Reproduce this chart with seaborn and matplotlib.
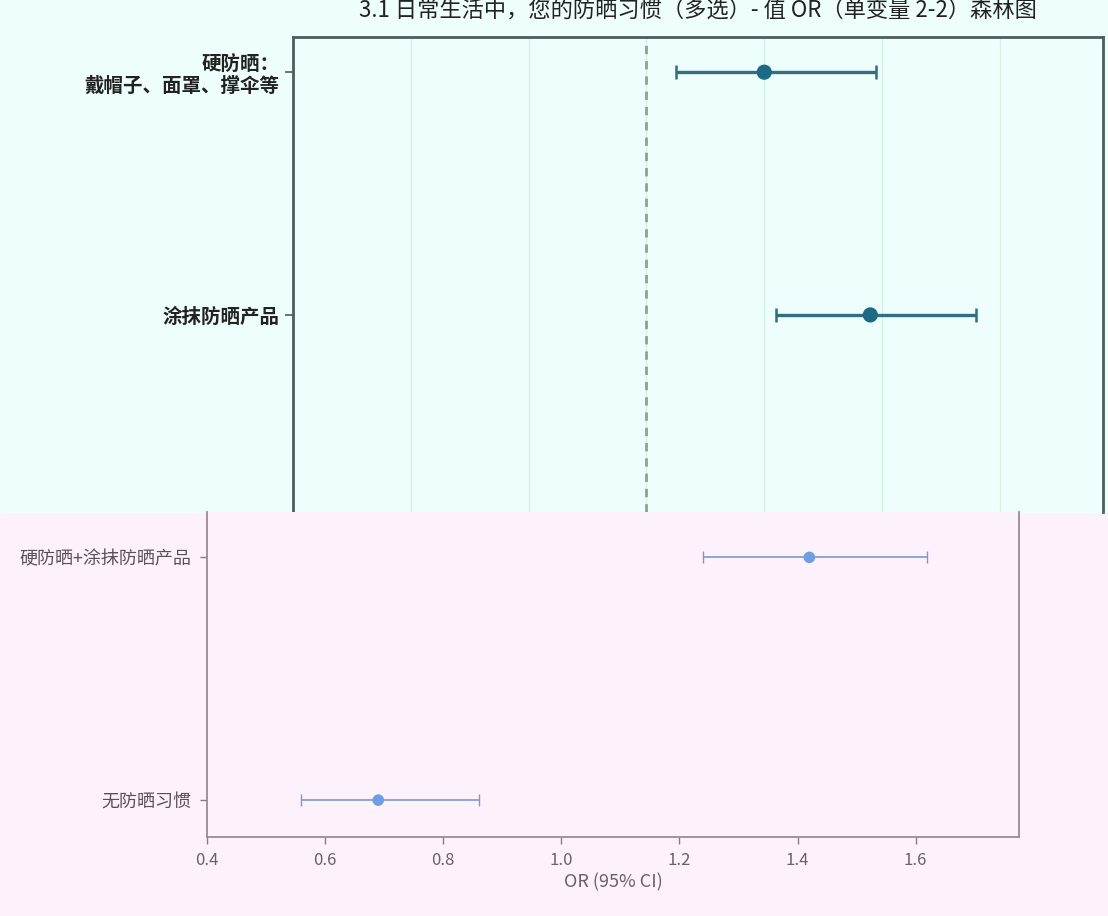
import numpy as np
import pandas as pd
import seaborn as sns
import matplotlib.pyplot as plt
from matplotlib.patches import Rectangle

# ===============================
# DATA
# ===============================
labels = ["硬防晒：\n戴帽子、面罩、撑伞等", "涂抹防晒产品", "硬防晒+涂抹防晒产品", "无防晒习惯"]
or_vals = [1.20, 1.38, 1.42, 0.69]
ci_low = [1.05, 1.22, 1.24, 0.56]
ci_high = [1.39, 1.56, 1.62, 0.86]
x_ticks = [0.4, 0.6, 0.8, 1.0, 1.2, 1.4, 1.6]
title = "3.1 日常生活中，您的防晒习惯（多选）- 值 OR（单变量 2-2）森林图"
x_label = "OR (95% CI)"

df = pd.DataFrame({"label": labels, "OR": or_vals, "lo": ci_low, "hi": ci_high})
df["pos"] = np.arange(len(df))
xerr = [df["OR"] - df["lo"], df["hi"] - df["OR"]]

# ===============================
# STYLE
# ===============================
sns.set_theme(style="ticks")
plt.rcParams["font.family"] = ["Noto Sans CJK SC", "DejaVu Sans"]

W, H = 1108, 916
CYAN = "#eefefd"
PINK = "#fdf1fb"
fig = plt.figure(figsize=(W / 100, H / 100), dpi=100, facecolor=PINK)
fig.patches.append(Rectangle((0, 1 - 512 / H), 1, 512 / H, transform=fig.transFigure,
                             color=CYAN, zorder=-10))


def px_axes(l, t, r, b):
    return fig.add_axes([l / W, 1 - b / H, (r - l) / W, (b - t) / H])


# ===============================
# TOP PANEL
# ===============================
ax = px_axes(293, 37, 1103, 512)
ax.set_facecolor(CYAN)
ax.errorbar(df["OR"], df["pos"], xerr=xerr, fmt="none", ecolor="#2f6f7f",
            elinewidth=2.4, capsize=5, capthick=1.8, zorder=2)
sns.scatterplot(data=df, x="OR", y="pos", ax=ax, color="#1d6a86", s=120,
                edgecolor="none", zorder=3)
ax.set_xticks(x_ticks)
ax.set_xticklabels([])
ax.tick_params(axis="x", length=0)
ax.set_yticks(df["pos"])
ax.set_yticklabels(df["label"], fontsize=14, fontweight="bold", color="#222222")
ax.tick_params(axis="y", length=6, width=1.2, color="#4a5f58", pad=4)
ax.grid(axis="x", color="#d3f2e4", lw=1)
ax.grid(axis="y", visible=False)
ax.axvline(1.0, color="#86a596", lw=2, ls=(0, (3, 2.5)), zorder=1)
ax.set_xlim(0.4, 1.775)
ax.set_ylim(1.812, -0.145)
ax.set_xlabel("")
ax.set_ylabel("")
ax.spines["bottom"].set_visible(False)
for s in ["top", "left", "right"]:
    ax.spines[s].set_color("#4a5f58")
    ax.spines[s].set_linewidth(2)

# ===============================
# BOTTOM PANEL
# ===============================
ax2 = px_axes(207, 512, 1019, 837)
ax2.set_facecolor(PINK)
ax2.errorbar(df["OR"], df["pos"], xerr=xerr, fmt="none", ecolor="#7e98d2",
             elinewidth=1.2, capsize=4.5, capthick=1.0, zorder=2)
sns.scatterplot(data=df, x="OR", y="pos", ax=ax2, color="#6e9fe4", s=70,
                edgecolor="none", zorder=3)
ax2.set_xticks(x_ticks)
ax2.set_xticklabels([f"{t:.1f}" for t in x_ticks], fontsize=12, color="#6b6068")
ax2.set_yticks(df["pos"])
ax2.set_yticklabels(df["label"], fontsize=13, color="#5b5058")
ax2.tick_params(length=5, width=1, color="#8c7a86", pad=6)
ax2.set_xlim(0.4, 1.775)
ax2.set_ylim(3.152, 1.813)
ax2.set_xlabel(x_label, fontsize=13, color="#6b6068", labelpad=3)
ax2.set_ylabel("")
ax2.spines["top"].set_visible(False)
for s in ["bottom", "left", "right"]:
    ax2.spines[s].set_color("#9b8a95")
    ax2.spines[s].set_linewidth(1.3)

fig.text(698 / W, 1 - 10 / H, title, ha="center", va="center", fontsize=16, color="#222222")

fig.savefig("out.png", dpi=100, facecolor=fig.get_facecolor())
